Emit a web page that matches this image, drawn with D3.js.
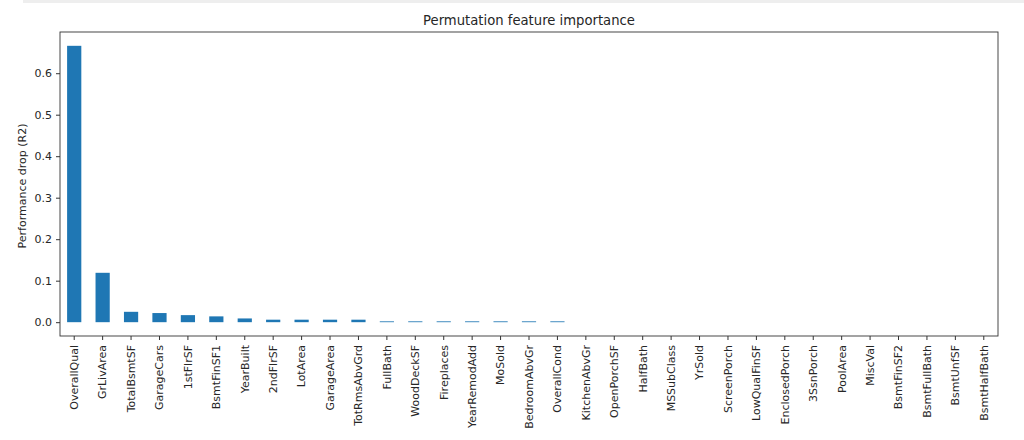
<!DOCTYPE html>
<html>
<head>
<meta charset="utf-8">
<script src="https://cdn.jsdelivr.net/npm/d3@7"></script>
<style>
  body { margin: 0; background: #fff; }
  svg { display: block; }
  text { font-family: "DejaVu Sans", sans-serif; fill: #262626; }
</style>
</head>
<body>
<svg id="chart" width="1024" height="440"></svg>
<script>
const features = ["OverallQual","GrLivArea","TotalBsmtSF","GarageCars","1stFlrSF","BsmtFinSF1","YearBuilt","2ndFlrSF","LotArea","GarageArea","TotRmsAbvGrd","FullBath","WoodDeckSF","Fireplaces","YearRemodAdd","MoSold","BedroomAbvGr","OverallCond","KitchenAbvGr","OpenPorchSF","HalfBath","MSSubClass","YrSold","ScreenPorch","LowQualFinSF","EnclosedPorch","3SsnPorch","PoolArea","MiscVal","BsmtFinSF2","BsmtFullBath","BsmtUnfSF","BsmtHalfBath"];
const importance = [0.666,0.119,0.025,0.022,0.017,0.014,0.009,0.006,0.006,0.006,0.006,0.002,0.002,0.002,0.002,0.002,0.002,0.002,0,0,0,0,0,0,0,0,0,0,0,0,0,0,0];
const yTicks = [0.0,0.1,0.2,0.3,0.4,0.5,0.6];
const title = "Permutation feature importance";
const yLabel = "Performance drop (R2)";

const svg = d3.select("#chart");
const m = {left: 60, right: 1024 - 998, top: 32, bottom: 440 - 336};
const W = 1024 - m.left - m.right, H = 440 - m.top - m.bottom;

// notebook cell band at top
svg.append("rect").attr("x", 23).attr("y", 0).attr("width", 1001).attr("height", 3).attr("fill", "#eeeeee");

const g = svg.append("g").attr("transform", `translate(${m.left},${m.top})`);

const maxV = d3.max(importance);
const x = d3.scaleBand().domain(features).range([0, W]).paddingInner(0.5).paddingOuter(0.25);
const y = d3.scaleLinear().domain([-0.05 * maxV, maxV * 1.05]).range([H, 0]);

g.selectAll("rect.bar").data(features).enter().append("rect")
  .attr("class", "bar")
  .attr("x", d => x(d))
  .attr("width", x.bandwidth())
  .attr("y", (d, i) => y(importance[i]))
  .attr("height", (d, i) => y(0) - y(importance[i]))
  .attr("fill", "#1f77b4");

const yAxis = g.append("g").call(d3.axisLeft(y).tickValues(yTicks).tickFormat(d3.format(".1f")).tickSize(4).tickPadding(4));
yAxis.select(".domain").remove();
yAxis.selectAll("line").attr("stroke", "#333");
yAxis.selectAll("text").attr("font-size", 11).attr("fill", "#262626").style("font-family", "DejaVu Sans");

const xAxis = g.append("g").attr("transform", `translate(0,${H})`)
  .call(d3.axisBottom(x).tickSize(4).tickPadding(4));
xAxis.select(".domain").remove();
xAxis.selectAll("line").attr("stroke", "#333");
xAxis.selectAll("text")
  .attr("font-size", 11).attr("fill", "#262626").style("font-family", "DejaVu Sans")
  .attr("text-anchor", "end")
  .attr("transform", "rotate(-90)")
  .attr("x", -9).attr("y", 0).attr("dy", "0.35em");

// frame
g.append("rect").attr("x", 0).attr("y", 0).attr("width", W).attr("height", H)
  .attr("fill", "none").attr("stroke", "#333").attr("stroke-width", 0.9);

svg.append("text").attr("x", m.left + W / 2).attr("y", 25).attr("text-anchor", "middle")
  .attr("font-size", 13.2).text(title);

svg.append("text").attr("transform", `translate(26,${186}) rotate(-90)`)
  .attr("text-anchor", "middle").attr("font-size", 11).text(yLabel);
</script>
</body>
</html>
